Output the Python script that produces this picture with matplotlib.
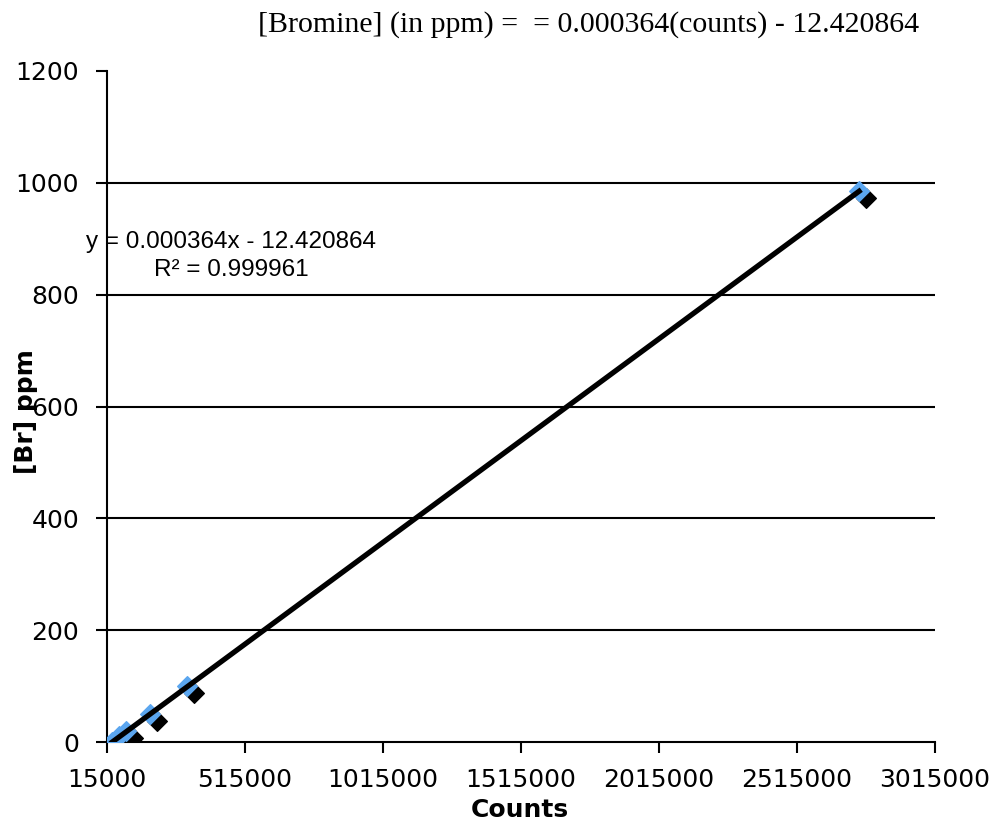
import numpy as np
import matplotlib.pyplot as plt
import matplotlib.transforms as mtransforms

# standards
counts = [34000, 60000, 85000, 170000, 305000, 2740000]
br_ppm = [0, 10, 20, 50, 100, 985]
slope = 0.000364
intercept = -12.420864

x_ticks = [15000, 515000, 1015000, 1515000, 2015000, 2515000, 3015000]
y_ticks = [0, 200, 400, 600, 800, 1000, 1200]

fig = plt.figure(figsize=(9.95, 8.26), dpi=100)
ax = fig.add_axes([107/995, 1 - 742/826, (935-107)/995, (742-71)/826])

ax.set_xlim(15000, 3015000)
ax.set_ylim(0, 1200)
ax.set_xticks(x_ticks)
ax.set_yticks(y_ticks)
ax.set_xticklabels([str(t) for t in x_ticks])
ax.tick_params(labelsize=18, length=8, width=1.5, direction='out')
ax.tick_params(axis='y', pad=12)
ax.tick_params(axis='x', pad=11)

for v in y_ticks[1:-1]:
    ax.axhline(v, color='black', lw=1.5, zorder=1)

ax.spines['top'].set_visible(False)
ax.spines['right'].set_visible(False)
ax.spines['left'].set_linewidth(1.5)
ax.spines['bottom'].set_linewidth(1.5)

# shadow markers (offset down-right)
shadow = mtransforms.offset_copy(ax.transData, fig=fig, x=5, y=-5, units='points')
ax.scatter(counts, br_ppm, marker='D', s=100, color='black', transform=shadow, zorder=2)
ax.scatter(counts, br_ppm, marker='D', s=100, color='#5ba6ef', zorder=3)

xs = np.array([counts[0], counts[-1]])
ax.plot(xs, slope * xs + intercept, color='black', lw=3.8, zorder=4)

fig.text(231/995, 1 - 256/826, 'y = 0.000364x - 12.420864\nR² = 0.999961',
         ha='center', va='center', fontsize=17.5, linespacing=1.3,
         family='Liberation Sans')

fig.text(258/995, 1 - 25/826, '[Bromine] (in ppm) =  = 0.000364(counts) - 12.420864',
         ha='left', va='center', fontsize=21.5, family='Liberation Serif')

fig.text(520/995, 1 - 810/826, 'Counts', ha='center', va='center',
         fontsize=18, fontweight='bold')
fig.text(26/995, 1 - 412/826, '[Br] ppm', ha='center', va='center',
         fontsize=18, fontweight='bold', rotation=90)

fig.savefig('out.png', dpi=100)
